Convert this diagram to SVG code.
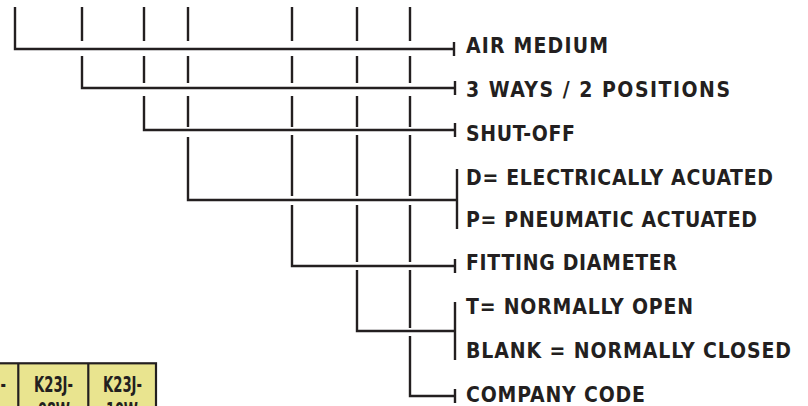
<svg xmlns="http://www.w3.org/2000/svg" width="808" height="406" viewBox="0 0 808 406">
<defs>
<style>
.ln{fill:none;stroke:#231f20;stroke-width:2.4;stroke-linecap:butt;stroke-linejoin:miter}
.lbl{font-family:"DejaVu Sans Condensed","DejaVu Sans",sans-serif;font-weight:bold;font-size:21px;fill:#231f20}
.cell{fill:#e9e48f;stroke:#231f20;stroke-width:2.2}
.ct{font-family:"DejaVu Sans Condensed","DejaVu Sans",sans-serif;font-weight:bold;font-size:22px;fill:#231f20;text-anchor:start}
</style>
</defs>
<rect width="808" height="406" fill="#ffffff"/>
<g id="connectors">
<path class="ln" d="M15 7V49H454M454 42V56"/>
<path class="ln" d="M82 7V41M82 56V88H455M455 81V95"/>
<path class="ln" d="M144 7V41M144 56V83M144 96V130H455M455 123V137"/>
<path class="ln" d="M188 7V41M188 56V83M188 96V127M188 137V200H457M457 169V229"/>
<path class="ln" d="M292 7V41M292 56V83M292 96V127M292 135V196M292 205V266H455M455 259V273"/>
<path class="ln" d="M357 7V41M357 56V83M357 96V127M357 135V196M357 205V262M357 270V331H455M455 302V360"/>
<path class="ln" d="M410 7V41M410 56V83M410 96V127M410 135V196M410 205V262M410 270V328M410 336V396H455M455 389V403"/>
</g>
<g id="node-air"><text class="lbl" x="466" y="52.7" textLength="142">AIR MEDIUM</text></g>
<g id="node-ways"><text class="lbl" x="466" y="97" textLength="264">3 WAYS / 2 POSITIONS</text></g>
<g id="node-shutoff"><text class="lbl" x="466" y="141" textLength="109">SHUT-OFF</text></g>
<g id="node-actuation">
<text class="lbl" x="466" y="185" textLength="307">D= ELECTRICALLY ACUATED</text>
<text class="lbl" x="466" y="226.5" textLength="291">P= PNEUMATIC ACTUATED</text>
</g>
<g id="node-fitting"><text class="lbl" x="466" y="269.5" textLength="211">FITTING DIAMETER</text></g>
<g id="node-normal">
<text class="lbl" x="466" y="313.5" textLength="227">T= NORMALLY OPEN</text>
<text class="lbl" x="466" y="358" textLength="325">BLANK = NORMALLY CLOSED</text>
</g>
<g id="node-company"><text class="lbl" x="466" y="401.5" textLength="179">COMPANY CODE</text></g>
<g id="table">
<rect class="cell" x="-3" y="363.3" width="159" height="60"/>
<line class="ln" x1="18.3" y1="363" x2="18.3" y2="410" style="stroke-width:2.2"/>
<line class="ln" x1="88.3" y1="363" x2="88.3" y2="410" style="stroke-width:2.2"/>
<text class="ct" x="-33" y="391.5" textLength="39" lengthAdjust="spacingAndGlyphs">K23J-</text>
<text class="ct" x="34" y="391.5" textLength="39" lengthAdjust="spacingAndGlyphs">K23J-</text>
<text class="ct" x="103" y="391.5" textLength="39" lengthAdjust="spacingAndGlyphs">K23J-</text>
<text class="ct" x="38" y="418" textLength="32" lengthAdjust="spacingAndGlyphs">08W</text>
<text class="ct" x="106" y="418" textLength="32" lengthAdjust="spacingAndGlyphs">10W</text>
</g>
</svg>
